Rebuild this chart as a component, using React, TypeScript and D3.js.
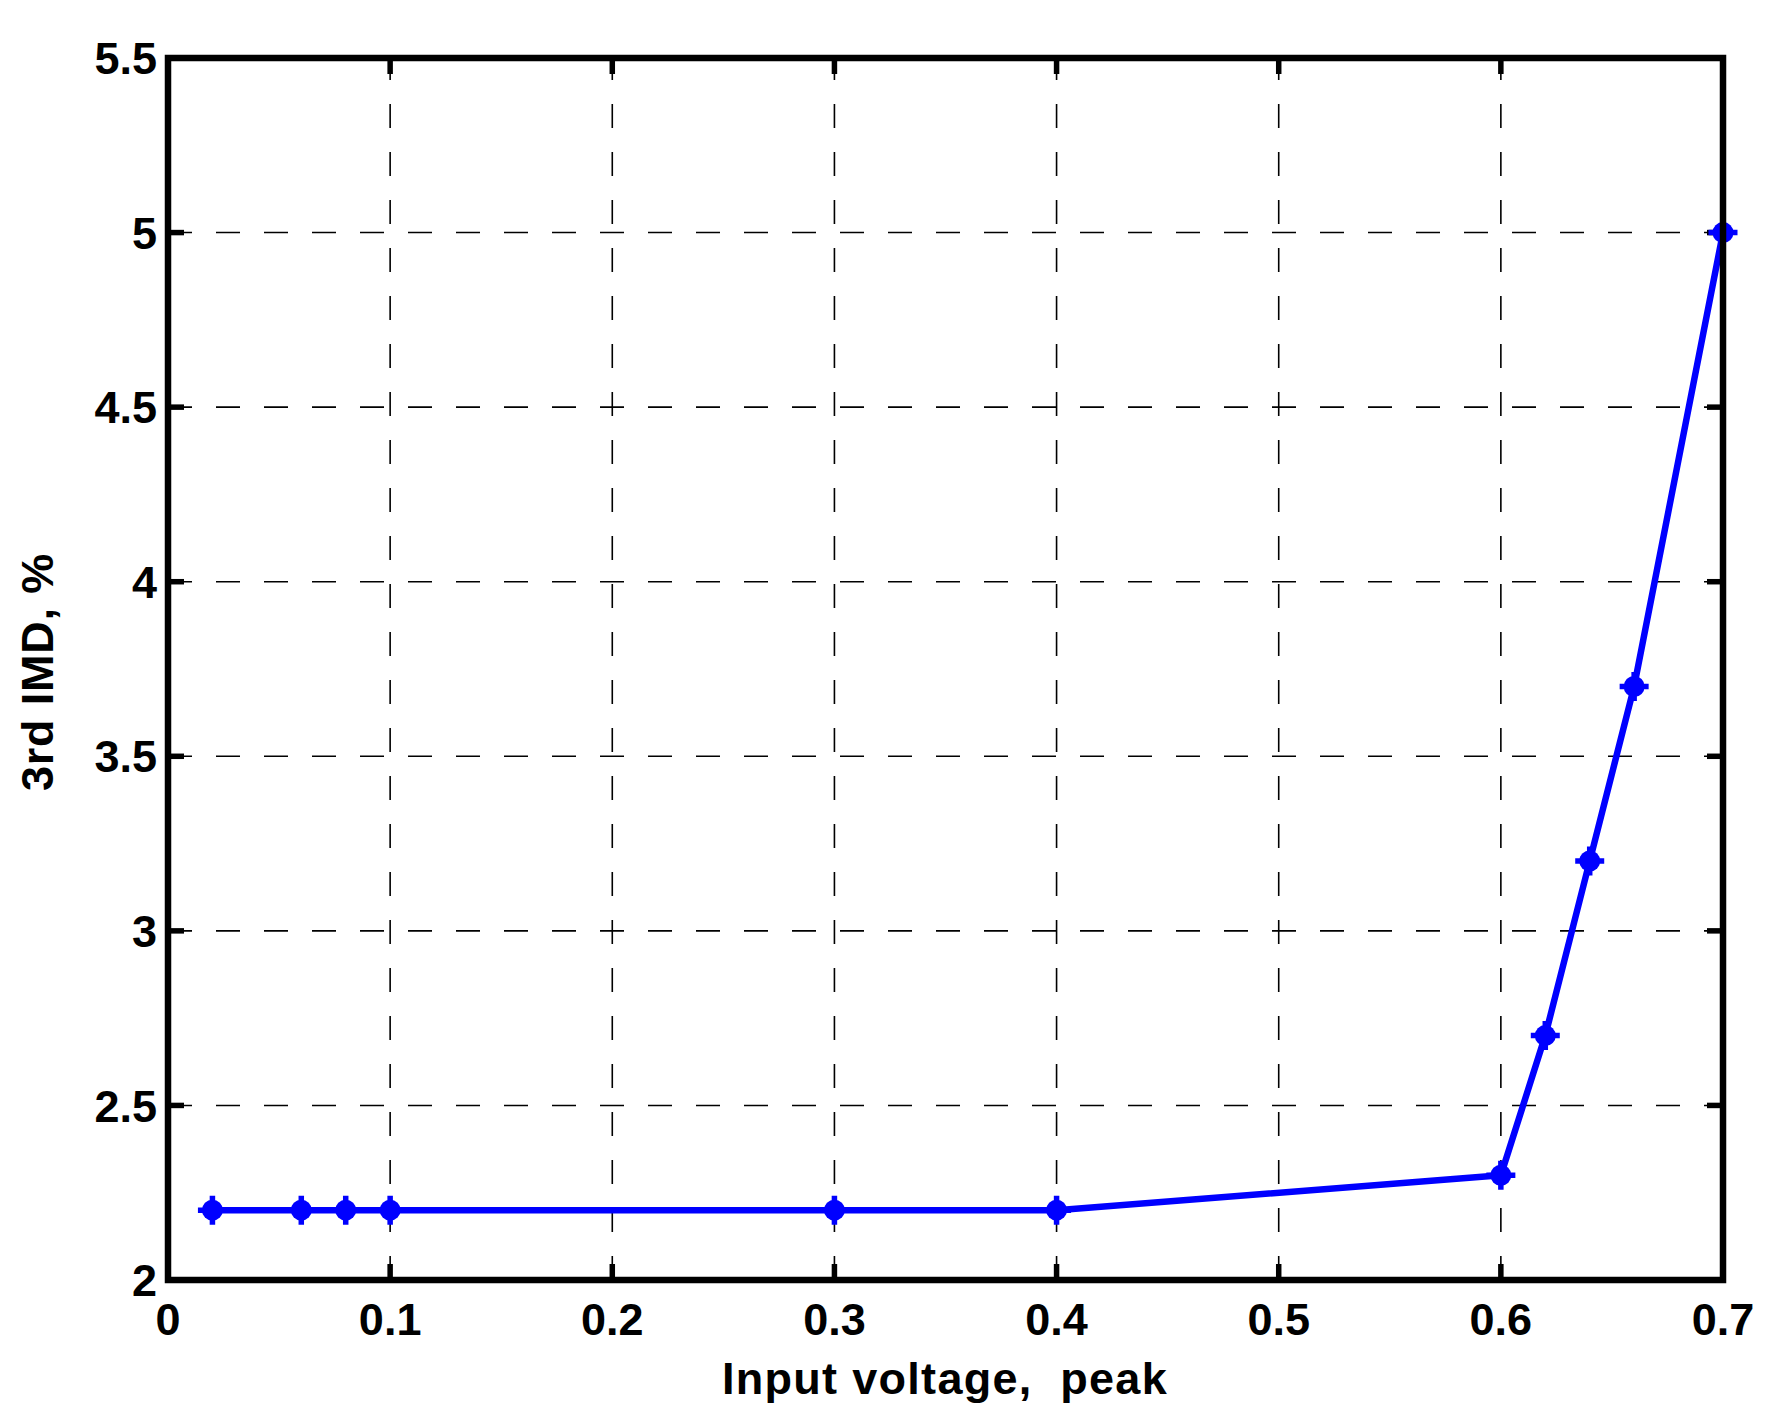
import React, { useEffect, useRef } from "react";
import * as d3 from "d3";

const inputVoltage = [0.02, 0.06, 0.08, 0.1, 0.3, 0.4, 0.6, 0.62, 0.64, 0.66, 0.7];
const imd3 = [2.2, 2.2, 2.2, 2.2, 2.2, 2.2, 2.3, 2.7, 3.2, 3.7, 5.0];
const xTicks = [0, 0.1, 0.2, 0.3, 0.4, 0.5, 0.6, 0.7];
const yTicks = [2, 2.5, 3, 3.5, 4, 4.5, 5, 5.5];
const xLabel = "Input voltage,  peak";
const yLabel = "3rd IMD, %";

const W = 1788;
const H = 1424;
const M = { left: 168, right: 1723, top: 58, bottom: 1280 };
const FONT = "'Liberation Sans', Arial, Helvetica, sans-serif";

export default function App() {
  const ref = useRef<SVGSVGElement | null>(null);

  useEffect(() => {
    const svg = d3.select(ref.current);
    svg.selectAll("*").remove();

    const x = d3.scaleLinear().domain([0, 0.7]).range([M.left, M.right]);
    const y = d3.scaleLinear().domain([2, 5.5]).range([M.bottom, M.top]);

    svg.append("rect").attr("width", W).attr("height", H).attr("fill", "#fff");

    // grid
    const grid = svg.append("g").attr("stroke", "#000").attr("stroke-width", 1.6).attr("stroke-dasharray", "24,24");
    xTicks.slice(1, -1).forEach((t) => {
      grid.append("line").attr("x1", x(t)).attr("x2", x(t)).attr("y1", M.bottom).attr("y2", M.top);
    });
    yTicks.slice(1, -1).forEach((t) => {
      grid.append("line").attr("y1", y(t)).attr("y2", y(t)).attr("x1", M.left).attr("x2", M.right);
    });

    // ticks (inward, all four sides)
    const tl = 16;
    const ticks = svg.append("g").attr("stroke", "#000").attr("stroke-width", 5.5);
    xTicks.forEach((t) => {
      ticks.append("line").attr("x1", x(t)).attr("x2", x(t)).attr("y1", M.bottom).attr("y2", M.bottom - tl);
      ticks.append("line").attr("x1", x(t)).attr("x2", x(t)).attr("y1", M.top).attr("y2", M.top + tl);
    });
    yTicks.forEach((t) => {
      ticks.append("line").attr("y1", y(t)).attr("y2", y(t)).attr("x1", M.left).attr("x2", M.left + tl);
      ticks.append("line").attr("y1", y(t)).attr("y2", y(t)).attr("x1", M.right).attr("x2", M.right - tl);
    });

    // data line
    const pts = inputVoltage.map((v, i) => [x(v), y(imd3[i])] as [number, number]);
    svg
      .append("path")
      .attr("d", d3.line()(pts) as string)
      .attr("fill", "none")
      .attr("stroke", "#0000ff")
      .attr("stroke-width", 6.5)
      .attr("stroke-linejoin", "round");

    // markers
    const mk = svg.append("g");
    pts.forEach(([px, py]) => {
      mk.append("circle").attr("cx", px).attr("cy", py).attr("r", 10.5).attr("fill", "#0000ff");
      mk.append("path")
        .attr("d", `M${px - 14.5},${py}H${px + 14.5}M${px},${py - 14.5}V${py + 14.5}`)
        .attr("stroke", "#0000ff")
        .attr("stroke-width", 5.5);
    });

    // frame
    svg
      .append("rect")
      .attr("x", M.left)
      .attr("y", M.top)
      .attr("width", M.right - M.left)
      .attr("height", M.bottom - M.top)
      .attr("fill", "none")
      .attr("stroke", "#000")
      .attr("stroke-width", 6.5);

    // tick labels
    const fmt = d3.format("");
    svg
      .append("g")
      .selectAll("text")
      .data(xTicks)
      .join("text")
      .attr("x", (d) => x(d))
      .attr("y", 1335)
      .attr("text-anchor", "middle")
      .attr("font-family", FONT)
      .attr("font-weight", "bold")
      .attr("font-size", 45)
      .text((d) => fmt(d));
    svg
      .append("g")
      .selectAll("text")
      .data(yTicks)
      .join("text")
      .attr("x", 157)
      .attr("y", (d) => y(d))
      .attr("dy", "0.36em")
      .attr("text-anchor", "end")
      .attr("font-family", FONT)
      .attr("font-weight", "bold")
      .attr("font-size", 45)
      .text((d) => fmt(d));

    // axis labels
    svg
      .append("text")
      .attr("x", 945)
      .attr("y", 1394)
      .attr("text-anchor", "middle")
      .attr("font-family", FONT)
      .attr("font-weight", "bold")
      .attr("font-size", 45)
      .attr("letter-spacing", 1.3)
      .attr("xml:space", "preserve")
      .style("white-space", "pre")
      .text(xLabel);
    svg
      .append("text")
      .attr("transform", `translate(53,672) rotate(-90)`)
      .attr("text-anchor", "middle")
      .attr("font-family", FONT)
      .attr("font-weight", "bold")
      .attr("font-size", 45)
      .attr("letter-spacing", 0.8)
      .text(yLabel);
  }, []);

  return (
    <svg
      ref={ref}
      width={W}
      height={H}
      viewBox={`0 0 ${W} ${H}`}
      style={{ position: "absolute", left: 0, top: 0, display: "block" }}
    />
  );
}
